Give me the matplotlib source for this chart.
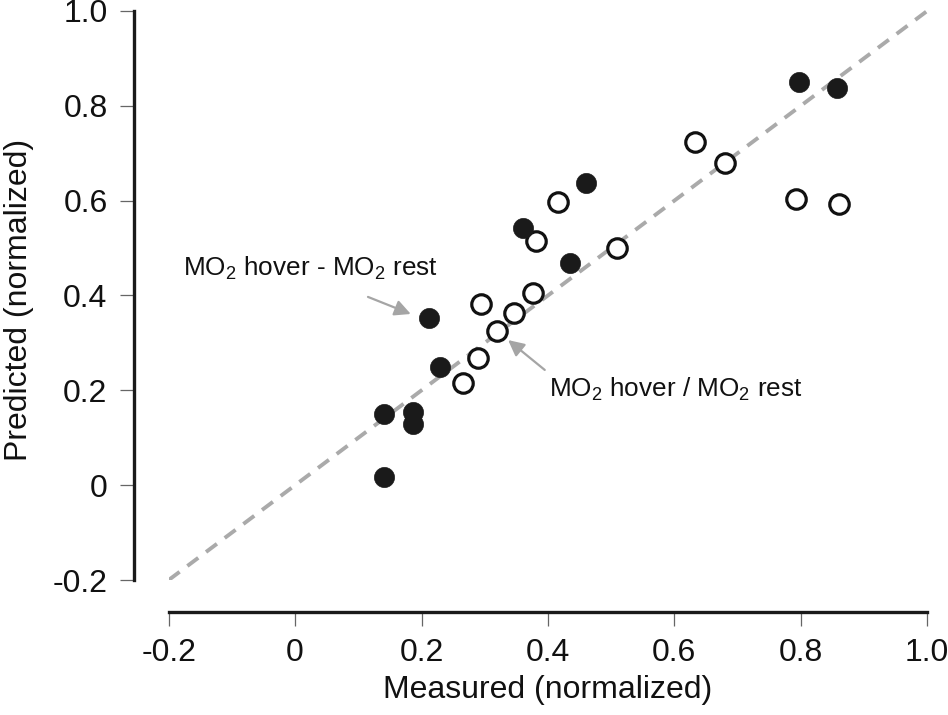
import matplotlib
matplotlib.use("Agg")
import matplotlib.pyplot as plt

plt.rcParams['font.family'] = ['Liberation Sans', 'DejaVu Sans']
plt.rcParams['mathtext.default'] = 'regular'

# Data: difference metric (filled) and ratio metric (open)
diff_measured = [0.212, 0.230, 0.140, 0.187, 0.187, 0.141, 0.360, 0.435, 0.461, 0.798, 0.857]
diff_predicted = [0.352, 0.250, 0.150, 0.155, 0.129, 0.018, 0.542, 0.468, 0.638, 0.851, 0.838]

ratio_measured = [0.266, 0.290, 0.294, 0.319, 0.347, 0.376, 0.381, 0.416, 0.510, 0.633, 0.680, 0.793, 0.861]
ratio_predicted = [0.215, 0.268, 0.382, 0.326, 0.363, 0.405, 0.514, 0.598, 0.500, 0.724, 0.680, 0.604, 0.592]

ticks = [-0.2, 0, 0.2, 0.4, 0.6, 0.8, 1.0]
tick_labels = ['-0.2', '0', '0.2', '0.4', '0.6', '0.8', '1.0']
identity = [-0.2, 1.0]

W, H = 948, 715
fig = plt.figure(figsize=(W / 100, H / 100), dpi=100)
ax = fig.add_axes([168.7 / W, (H - 580) / H, 777.4 / W, 578.5 / H])
ax.set_xlim(-0.2, 1.03)
ax.set_ylim(-0.2, 1.02)

ax.plot(identity, identity, color='#aaaaaa', lw=2.8, linestyle=(0, (3.5, 2.5)), zorder=1)

ax.plot(ratio_measured, ratio_predicted, 'o', ms=14, mfc='white', mec='#111111', mew=2.3, zorder=3)
ax.plot(diff_measured, diff_predicted, 'o', ms=14.5, mfc='#1a1a1a', mec='#1a1a1a', mew=0.5, zorder=4)

arrow_style = dict(arrowstyle='-|>', color='#a5a5a5', lw=1.6, mutation_scale=24,
                   shrinkA=0, shrinkB=0)
ax.annotate('', xy=(0.183, 0.361), xytext=(0.1153, 0.397), arrowprops=arrow_style)
ax.text(-0.178, 0.458, 'MO$_2$ hover - MO$_2$ rest', fontsize=18.8, color='#111111',
        ha='left', va='center')

ax.annotate('', xy=(0.337, 0.306), xytext=(0.395, 0.243), arrowprops=arrow_style)
ax.text(0.402, 0.201, 'MO$_2$ hover / MO$_2$ rest', fontsize=18.8, color='#111111',
        ha='left', va='center')

for s in ['top', 'right']:
    ax.spines[s].set_visible(False)
ax.spines['left'].set_position(('outward', 25))
ax.spines['bottom'].set_position(('outward', 23))
ax.spines['left'].set_bounds(-0.2, 1.0)
ax.spines['bottom'].set_bounds(-0.2, 1.0)
for s in ['left', 'bottom']:
    ax.spines[s].set_linewidth(2.4)
    ax.spines[s].set_color('#1a1a1a')

ax.set_xticks(ticks)
ax.set_xticklabels(tick_labels)
ax.set_yticks(ticks)
ax.set_yticklabels(tick_labels)
ax.tick_params(axis='both', length=10, width=0.9, color='#666666', labelsize=23,
               labelcolor='#111111', pad=9)

ax.set_xlabel('Measured (normalized)', fontsize=23, color='#111111', va='center')
ax.xaxis.set_label_coords(0.488, -0.19)
ax.set_ylabel('Predicted (normalized)', fontsize=23, color='#111111', va='center')
ax.yaxis.set_label_coords(-0.193, 0.484)

fig.savefig('out.png', dpi=100)
